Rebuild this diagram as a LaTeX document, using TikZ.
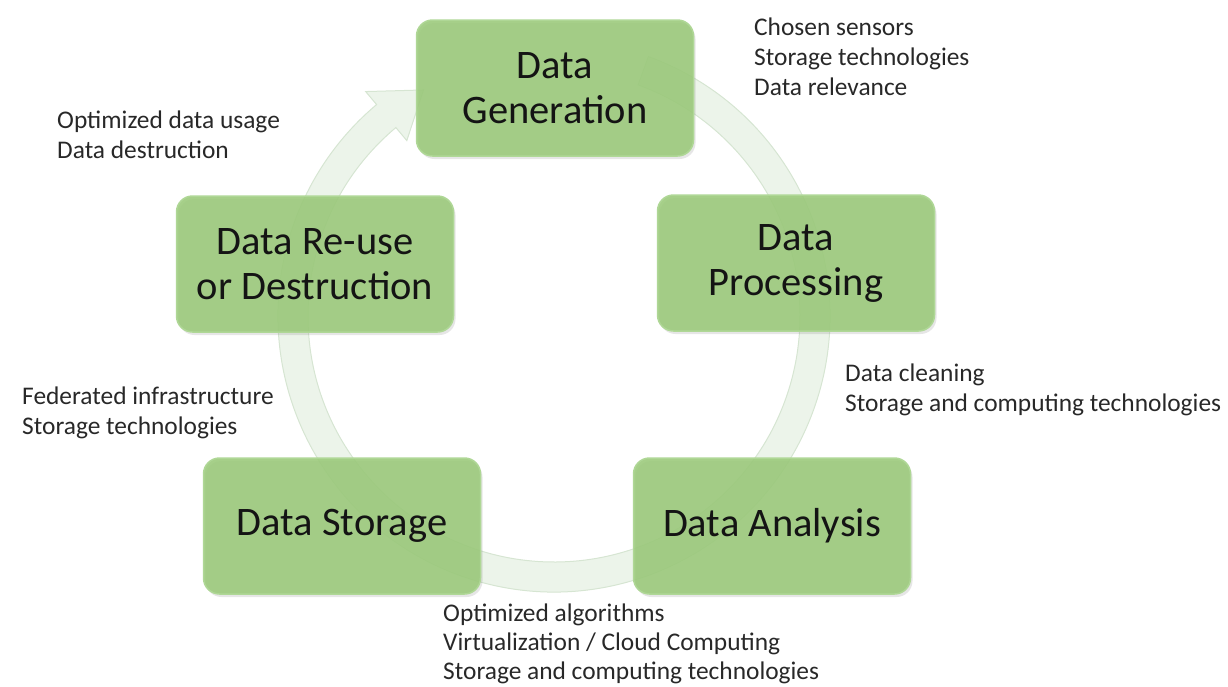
\documentclass[tikz,border=0pt]{standalone}
\usepackage{fontspec}
\setmainfont{Carlito}
\usetikzlibrary{calc,shadows}
\definecolor{boxfill}{RGB}{156,202,124}
\definecolor{boxedge}{RGB}{175,215,150}
\definecolor{bandfill}{RGB}{236,244,234}
\definecolor{bandedge}{RGB}{214,229,210}
\definecolor{txt}{RGB}{40,40,40}
\begin{document}
\begin{tikzpicture}[x=1pt,y=1pt,
  stage/.style={draw=boxedge, line width=1.5pt, fill=boxfill, fill opacity=0.9, text opacity=1,
    rounded corners=16pt, minimum width=277pt, minimum height=136pt, align=center,
    font=\fontsize{40.5}{45}\selectfont, text=black!92,
    drop shadow={opacity=0.2, shadow xshift=2pt, shadow yshift=-3pt}},
  note/.style={anchor=north west, inner sep=0pt, align=left, font=\fontsize{25.4}{30}\selectfont, text=txt},
  band/.style={fill=bandfill, draw=bandedge, line width=1pt}]
\useasboundingbox (0,0) rectangle (1228,-686);
\coordinate (C) at (554,-316);
\draw[band] ($(C)+(70:276)$) arc[start angle=70,end angle=-230,radius=276]
  -- ($(C)+(130:293)$) -- ($(C)+(120:261)$) -- ($(C)+(130:229)$)
  -- ($(C)+(130:246)$) arc[start angle=130,end angle=430,radius=246] -- cycle;
\node[stage] (gen) at (555,-88) {Data\\Generation};
\node[stage] (proc) at (796,-263) {Data\\Processing};
\node[stage] (ana) at (772,-526) {Data Analysis};
\node[stage] (sto) at (342,-526) {Data Storage};
\node[stage] (reuse) at (315,-264) {Data Re-use\\or Destruction};
\node[note] (n1) at (754,-18) {Chosen sensors\\Storage technologies\\Data relevance};
\node[note] (n2) at (57,-111) {Optimized data usage\\Data destruction};
\node[note] (n3) at (845,-364) {Data cleaning\\Storage and computing technologies};
\node[note] (n4) at (22,-387) {Federated infrastructure\\Storage technologies};
\node[note, font=\fontsize{25.4}{29}\selectfont] (n5) at (443,-604) {Optimized algorithms\\Virtualization / Cloud Computing\\Storage and computing technologies};
\end{tikzpicture}
\end{document}
